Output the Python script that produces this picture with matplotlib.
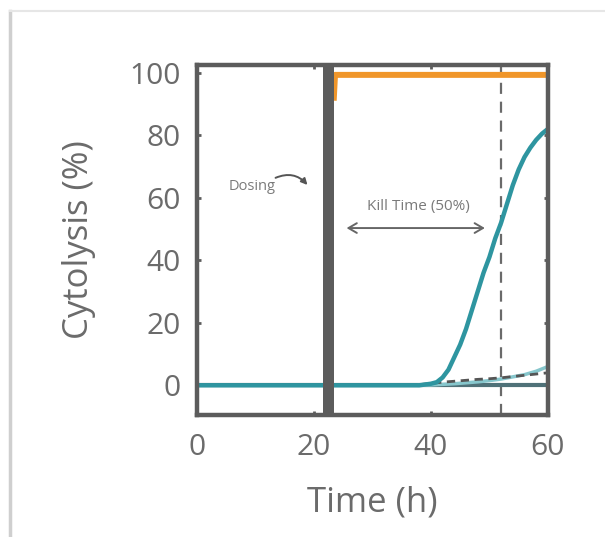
import matplotlib
matplotlib.use("Agg")
import matplotlib.pyplot as plt
from matplotlib.lines import Line2D
from matplotlib.patches import FancyArrowPatch

plt.rcParams['font.family'] = ['Open Sans', 'DejaVu Sans']

# ---- data ----
kill_time = [0, 5, 10, 15, 20, 25, 30, 35, 38, 40, 41, 42, 43, 44, 45, 46, 47, 48, 49, 50,
             51, 52, 53, 54, 55, 56, 57, 58, 59, 60]
kill_vals = [0, 0, 0, 0, 0, 0, 0, 0, 0, 0.5, 1, 2.5, 5, 9, 13, 18, 24, 30, 36, 41,
             47, 52, 58, 64, 69, 73, 76, 78.5, 80.5, 82]

orange_time = [23.4, 23.6, 30, 40, 50, 60]
orange_vals = [92, 99.3, 99.3, 99.3, 99.3, 99.3]

base_time = [0, 60]
base_vals = [0, 0]

grey_time = [38, 40, 42, 44, 46, 48, 50, 52, 54, 56, 58, 60]
grey_vals = [0.2, 0.6, 1.0, 1.3, 1.6, 1.9, 2.1, 2.4, 2.8, 3.2, 3.6, 4.0]

light_time = [38, 40, 42, 44, 46, 48, 50, 52, 54, 56, 58, 60]
light_vals = [0, 0.1, 0.3, 0.5, 0.8, 1.1, 1.5, 2.0, 2.7, 3.4, 4.5, 6.0]

dosing_start, dosing_end = 21.5, 23.4
kill_time_50 = 51.9

x_ticks = [0, 20, 40, 60]
y_ticks = [0, 20, 40, 60, 80, 100]

# ---- figure ----
fig = plt.figure(figsize=(6.05, 5.37), dpi=100)
fig.patch.set_facecolor('white')

# screenshot frame
fig.add_artist(Line2D([0.0165, 0.0165], [0.0, 0.9795], transform=fig.transFigure,
                      color='#cfcfcf', lw=2.5))
fig.add_artist(Line2D([0.0165, 1.0], [0.9795, 0.9795], transform=fig.transFigure,
                      color='#e6e6e6', lw=1.5))

ax = fig.add_axes([0.3256, 0.2272, 0.580, 0.652])
ax.set_xlim(0, 60)
ax.set_ylim(-9.5, 102.5)

grey = '#5c5c5c'
ax.axvspan(dosing_start, dosing_end, color=grey, zorder=6, lw=0)
ax.axvline(kill_time_50, color='#6a6a6a', lw=1.6, ls=(0, (5, 3.5)), zorder=2)

ax.plot(base_time, base_vals, color='#4f7178', lw=3, zorder=3)
ax.plot(light_time, light_vals, color='#86c6cc', lw=2.5, zorder=3)
ax.plot(grey_time, grey_vals, color='#555555', lw=2, ls=(0, (3, 2)), zorder=4)
ax.plot(orange_time, orange_vals, color='#f0962a', lw=4.3, zorder=4)
ax.plot(kill_time, kill_vals, color='#2e95a0', lw=3.2, zorder=5)

for s in ax.spines.values():
    s.set_color(grey)
    s.set_linewidth(3.2)
    s.set_zorder(7)

ax.set_xticks(x_ticks)
ax.set_yticks(y_ticks)
ax.tick_params(direction='in', length=3, width=2, color=grey, top=True, right=True,
               labelsize=21.5, labelcolor='#6b6b6b')
ax.tick_params(axis='x', pad=13)
ax.tick_params(axis='y', pad=12)
ax.set_xlabel('Time (h)', fontsize=25, color='#6b6b6b', labelpad=17)
ax.set_ylabel('Cytolysis (%)', fontsize=25, color='#6b6b6b', labelpad=24)

# annotations
ax.text(5.4, 63.5, 'Dosing', fontsize=10.5, color='#7a7a7a', ha='left', va='center')
ax.add_patch(FancyArrowPatch((13.0, 66.0), (19.2, 63.4),
                             connectionstyle='arc3,rad=-0.4', arrowstyle='-|>',
                             mutation_scale=9, color='#555555', lw=1.4))
ax.text(37.8, 57.3, 'Kill Time (50%)', fontsize=11, color='#7a7a7a', ha='center', va='center')
ax.add_patch(FancyArrowPatch((25.1, 50.3), (49.7, 50.3),
                             arrowstyle='<->,head_length=0.6,head_width=0.35',
                             mutation_scale=10, color='#666666', lw=1.4))

fig.savefig('out.png', dpi=100, facecolor='white')
